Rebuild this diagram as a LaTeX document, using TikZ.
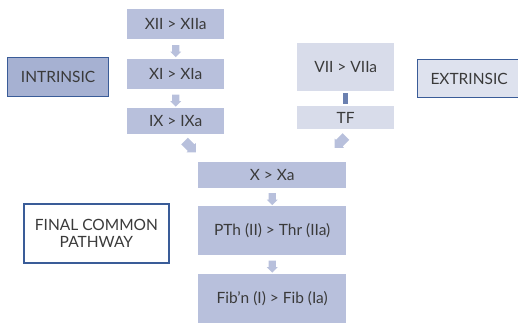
\documentclass[tikz,border=0pt]{standalone}
\usepackage{fontspec}
\setmainfont{Lato}
\usetikzlibrary{shapes.arrows,calc}
\definecolor{boxfill}{HTML}{B8C0DC}
\definecolor{lightfill}{HTML}{D8DCEA}
\definecolor{intfill}{HTML}{A6B1D2}
\definecolor{extfill}{HTML}{DEE2EE}
\definecolor{edge}{HTML}{3A5C98}
\definecolor{txt}{HTML}{3A3A3A}
\definecolor{tick}{HTML}{6B80B0}
\tikzset{
  lbl/.style={text=txt, font=\fontsize{15.5}{18}\selectfont},
  box/.style={lbl, fill=boxfill, draw=none, inner sep=0pt, anchor=north west},
  lbox/.style={box, fill=lightfill},
  side/.style={lbl, draw=edge, line width=1.2pt, inner sep=0pt, anchor=north west, align=center},
  blockarrow/.style={single arrow, fill=boxfill, draw=none, minimum height=12pt, minimum width=10.5pt, single arrow head extend=1.75pt, single arrow head indent=0pt, inner xsep=0pt, inner ysep=3.5pt},
  bigarrow/.style={blockarrow, minimum height=16pt, minimum width=13pt, inner ysep=4.5pt},
}
\begin{document}
\begin{tikzpicture}[x=1pt,y=-1pt]
\useasboundingbox (0,0) rectangle (518,324);
% intrinsic column
\node[box, minimum width=97pt, minimum height=30pt] (xii) at (127,9) {XII > XIIa};
\node[box, minimum width=97pt, minimum height=30pt] (xi) at (127,59) {XI > XIa};
\node[box, minimum width=97pt, minimum height=26pt] (ix) at (127,108) {IX > IXa};
% extrinsic column
\node[lbox, minimum width=97pt, minimum height=48pt] (vii) at (297,43) {VII > VIIa};
\node[lbox, minimum width=97pt, minimum height=23pt] (tf) at (297,106) {TF};
% common
\node[box, minimum width=148pt, minimum height=26pt] (x) at (198,162) {X > Xa};
\node[box, minimum width=148pt, minimum height=49pt] (pth) at (198,206) {PTh (II) > Thr (IIa)};
\node[box, minimum width=148pt, minimum height=49pt] (fib) at (198,274) {Fib'n (I) > Fib (Ia)};
% side labels
\node[side, fill=intfill, minimum width=101pt, minimum height=39pt] (intr) at (7,57) {INTRINSIC};
\node[side, fill=extfill, minimum width=103pt, minimum height=38pt] (extr) at (417,59) {EXTRINSIC};
\node[side, fill=white, line width=1.8pt, minimum width=145pt, minimum height=59pt] (fcp) at (23,203) {FINAL COMMON\\[-1pt]PATHWAY};
% arrows
\node[blockarrow, rotate=-90] (a1) at ($(xii.south)!0.5!(xi.north)$) {};
\node[blockarrow, rotate=-90] (a2) at ($(xi.south)!0.5!(ix.north)$) {};
\node[blockarrow, rotate=-90] (a3) at ($(x.south)!0.5!(pth.north)$) {};
\node[blockarrow, rotate=-90] (a4) at ($(pth.south)!0.5!(fib.north)$) {};
\node[bigarrow, rotate=-45] (a5) at (188.5,145) {};
\node[bigarrow, rotate=-135] (a6) at (342,140.5) {};
% TF connector
\node[fill=tick, minimum width=5pt, minimum height=11pt, inner sep=0pt] (tk) at ($(vii.south)!0.5!(tf.north)$) {};
\end{tikzpicture}
\end{document}
